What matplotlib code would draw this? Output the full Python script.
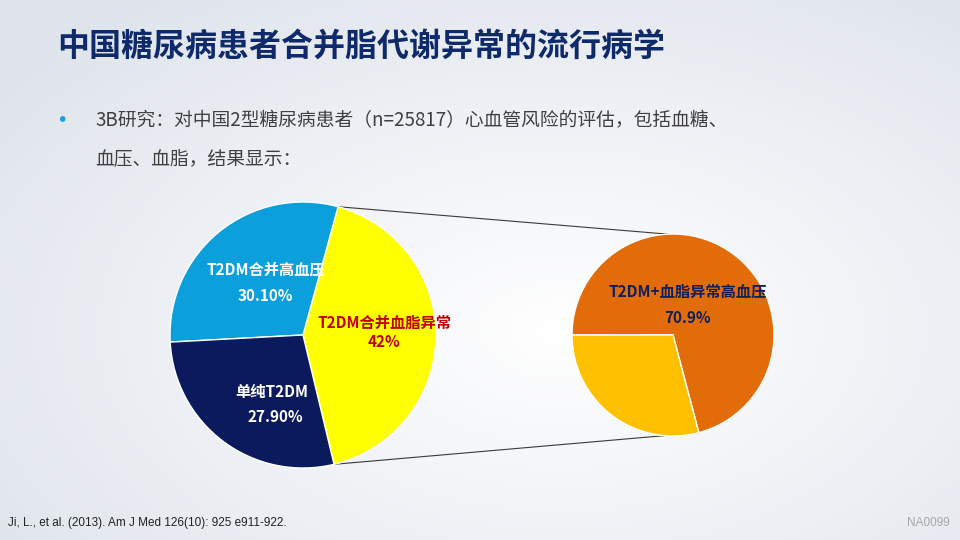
import numpy as np
import matplotlib
matplotlib.use('Agg')
import matplotlib.pyplot as plt

plt.rcParams['font.family'] = ['Noto Sans CJK SC', 'DejaVu Sans']

# ---------------- data ----------------
title = "中国糖尿病患者合并脂代谢异常的流行病学"
bullet_lines = ["3B研究：对中国2型糖尿病患者（n=25817）心血管风险的评估，包括血糖、",
                "血压、血脂，结果显示："]
left_labels = ["T2DM合并血脂异常", "T2DM合并高血压", "单纯T2DM"]
left_values = [42.0, 30.10, 27.90]
left_pct = ["42%", "30.10%", "27.90%"]
right_labels = ["T2DM+血脂异常高血压", ""]
right_values = [70.9, 29.1]
right_pct = ["70.9%", ""]
citation = "Ji, L., et al. (2013). Am J Med 126(10): 925 e911-922."
slide_code = "NA0099"

left_colors = ["#FFFF00", "#0B9FDB", "#0A1A5C"]
right_colors = ["#E36C0A", "#FFC000"]

W, H = 960, 540
fig = plt.figure(figsize=(9.6, 5.4), dpi=100)

# background gradient
bg = fig.add_axes([0, 0, 1, 1])
yy, xx = np.mgrid[0:H, 0:W]
d = np.sqrt(((xx - 560) / 700.0) ** 2 + ((yy - 330) / 420.0) ** 2)
d = np.clip(d, 0, 1)
c_in = np.array([1.0, 1.0, 1.0])
c_out = np.array([0xDF, 0xE4, 0xEC]) / 255.0
img = c_in[None, None, :] * (1 - d[..., None]) + c_out[None, None, :] * d[..., None]
bg.imshow(img, extent=[0, W, 0, H], origin='upper', aspect='auto')
bg.axis('off')

ax = fig.add_axes([0, 0, 1, 1])
ax.patch.set_alpha(0)

# left pie
lc = (303, H - 335)
lr = 133
lw, _ = ax.pie(left_values, colors=left_colors, startangle=-76.5, counterclock=True,
               center=lc, radius=lr, wedgeprops=dict(edgecolor='white', linewidth=1.0))
# right pie
rc = (673, H - 335)
rr = 101
rw, _ = ax.pie(right_values, colors=right_colors, startangle=-75.2, counterclock=True,
               center=rc, radius=rr, wedgeprops=dict(edgecolor='white', linewidth=1.0))

def pt(c, r, ang):
    a = np.deg2rad(ang)
    return c[0] + r * np.cos(a), c[1] + r * np.sin(a)

# connecting lines from yellow wedge edges to the right pie
p1 = pt(lc, lr, lw[0].theta2)
q1 = pt(rc, rr, 93)
p2 = pt(lc, lr, lw[0].theta1)
q2 = pt(rc, rr, rw[0].theta1)
ax.plot([p1[0], q1[0]], [p1[1], q1[1]], color='#3A3A3A', lw=0.8, zorder=0.5)
ax.plot([p2[0], q2[0]], [p2[1], q2[1]], color='#3A3A3A', lw=0.8, zorder=0.5)

# labels on left pie (offsets relative to pie centre)
lab_off = [(82, 12), (-37, 65), (-31, -57)]
pct_off = [(81, -7), (-38, 39), (-28, -82)]
lab_col = ["#C00000", "white", "white"]
for i in range(3):
    ax.text(lc[0] + lab_off[i][0], lc[1] + lab_off[i][1], left_labels[i], color=lab_col[i],
            fontsize=11, fontweight='bold', ha='center', va='center')
    ax.text(lc[0] + pct_off[i][0], lc[1] + pct_off[i][1], left_pct[i], color=lab_col[i],
            fontsize=11, fontweight='bold', ha='center', va='center')

ax.text(rc[0] + 15, rc[1] + 43, right_labels[0], color='#0E1F5B', fontsize=11,
        fontweight='bold', ha='center', va='center')
ax.text(rc[0] + 15, rc[1] + 17, right_pct[0], color='#0E1F5B', fontsize=11,
        fontweight='bold', ha='center', va='center')

ax.set_xlim(0, W)
ax.set_ylim(0, H)
ax.set_aspect('equal')
ax.axis('off')

# title and bullets
fig.text(57 / W, 1 - 47 / H, title, fontsize=23, fontweight='bold', color='#0E2A6B',
         ha='left', va='center')
fig.text(62 / W, 1 - 121 / H, "•", fontsize=14, color='#1BA1E2', ha='center', va='center',
         family=['DejaVu Sans'])
fig.text(95 / W, 1 - 121 / H, bullet_lines[0], fontsize=13.5, color='#404040',
         ha='left', va='center')
fig.text(95 / W, 1 - 160 / H, bullet_lines[1], fontsize=13.5, color='#404040',
         ha='left', va='center')

fig.text(8 / W, 1 - 523 / H, citation, fontsize=8.5, color='#222222', ha='left', va='center',
         family=['Liberation Sans Narrow', 'Liberation Sans'])
fig.text(950 / W, 1 - 523 / H, slide_code, fontsize=8.5, color='#A6A6A6', ha='right', va='center',
         family=['Liberation Sans Narrow', 'Liberation Sans'])

fig.savefig('out.png', dpi=100)
